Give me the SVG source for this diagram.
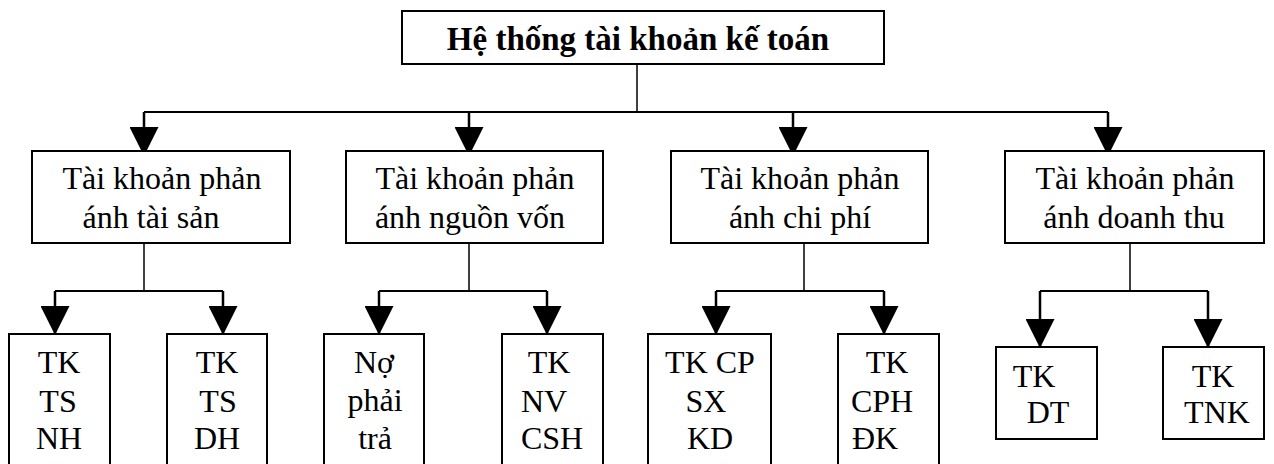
<svg xmlns="http://www.w3.org/2000/svg" width="1274" height="464" viewBox="0 0 1274 464">
<style>
.box{fill:#fff;stroke:#000;stroke-width:2}
.t{font-family:'Liberation Serif','Times New Roman',Tinos,'DejaVu Serif',serif;font-size:32px;fill:#000;text-anchor:middle}
.title{font-family:'Liberation Serif','Times New Roman',Tinos,'DejaVu Serif',serif;font-size:33px;font-weight:bold;fill:#000;text-anchor:middle}
.ln{fill:none;stroke:#000;stroke-width:2}
.thin{fill:none;stroke:#000;stroke-width:1.5}
.ar{fill:none;stroke:#000;stroke-width:2.5;marker-end:url(#ah)}
</style>
<defs>
<marker id="ah" markerUnits="userSpaceOnUse" markerWidth="29" markerHeight="29" viewBox="0 0 28 28" refX="27" refY="14" orient="auto">
<path d="M0,0 L28,14 L0,28 z" fill="#000"/>
</marker>
</defs>
<g id="connectors">
<path class="thin" d="M637,64 V112"/>
<path class="ln" d="M144,112 H1108"/>
<path class="ar" d="M144,112 V155"/>
<path class="ar" d="M469,112 V155"/>
<path class="ar" d="M793,112 V155"/>
<path class="ar" d="M1108,112 V155"/>
<path class="thin" d="M144,243 V291"/>
<path class="ln" d="M55,291 H223"/>
<path class="ar" d="M55,291 V334"/>
<path class="ar" d="M223,291 V334"/>
<path class="thin" d="M469,243 V291"/>
<path class="ln" d="M379,291 H547"/>
<path class="ar" d="M379,291 V334"/>
<path class="ar" d="M547,291 V334"/>
<path class="thin" d="M804,243 V291"/>
<path class="ln" d="M716,291 H884"/>
<path class="ar" d="M716,291 V334"/>
<path class="ar" d="M884,291 V334"/>
<path class="thin" d="M1130,243 V291"/>
<path class="ln" d="M1040,291 H1208"/>
<path class="ar" d="M1040,291 V347"/>
<path class="ar" d="M1208,291 V347"/>
</g>
<g id="root">
<rect class="box" x="402" y="11" width="482" height="53"/>
<text class="title" x="638" y="50" font-family="Liberation Serif, serif">Hệ thống tài khoản kế toán</text>
</g>
<g id="tk-taisan">
<rect class="box" x="32" y="151" width="258" height="92"/>
<text class="t" x="162" y="189">Tài khoản phản</text>
<text class="t" x="151" y="228">ánh tài sản</text>
</g>
<g id="tk-nguonvon">
<rect class="box" x="346" y="151" width="257" height="92"/>
<text class="t" x="475" y="189">Tài khoản phản</text>
<text class="t" x="470" y="228">ánh nguồn vốn</text>
</g>
<g id="tk-chiphi">
<rect class="box" x="671" y="151" width="257" height="92"/>
<text class="t" x="800" y="189">Tài khoản phản</text>
<text class="t" x="800" y="228">ánh chi phí</text>
</g>
<g id="tk-doanhthu">
<rect class="box" x="1005" y="151" width="259" height="92"/>
<text class="t" x="1135" y="189">Tài khoản phản</text>
<text class="t" x="1134" y="228">ánh doanh thu</text>
</g>
<g id="tk-ts-nh">
<rect class="box" x="9" y="334" width="101" height="140"/>
<text class="t" x="59" y="373">TK</text>
<text class="t" x="58" y="412">TS</text>
<text class="t" x="59" y="449">NH</text>
</g>
<g id="tk-ts-dh">
<rect class="box" x="167" y="334" width="100" height="140"/>
<text class="t" x="217" y="373">TK</text>
<text class="t" x="218" y="412">TS</text>
<text class="t" x="217" y="449">DH</text>
</g>
<g id="no-phai-tra">
<rect class="box" x="324" y="334" width="100" height="140"/>
<text class="t" x="374" y="373">Nợ</text>
<text class="t" x="375" y="411">phải</text>
<text class="t" x="375" y="449">trả</text>
</g>
<g id="tk-nv-csh">
<rect class="box" x="502" y="334" width="101" height="140"/>
<text class="t" x="549" y="373">TK</text>
<text class="t" x="544" y="412">NV</text>
<text class="t" x="552" y="449">CSH</text>
</g>
<g id="tk-cp-sx-kd">
<rect class="box" x="648" y="334" width="123" height="140"/>
<text class="t" x="710" y="373">TK CP</text>
<text class="t" x="706" y="412">SX</text>
<text class="t" x="710" y="449">KD</text>
</g>
<g id="tk-cph-dk">
<rect class="box" x="838" y="334" width="101" height="140"/>
<text class="t" x="887" y="373">TK</text>
<text class="t" x="882" y="412">CPH</text>
<text class="t" x="875" y="449">ĐK</text>
</g>
<g id="tk-dt">
<rect class="box" x="996" y="347" width="101" height="92"/>
<text class="t" x="1034" y="387">TK</text>
<text class="t" x="1048" y="423">DT</text>
</g>
<g id="tk-tnk">
<rect class="box" x="1163" y="347" width="101" height="92"/>
<text class="t" x="1213" y="387">TK</text>
<text class="t" x="1217" y="423">TNK</text>
</g>
</svg>
